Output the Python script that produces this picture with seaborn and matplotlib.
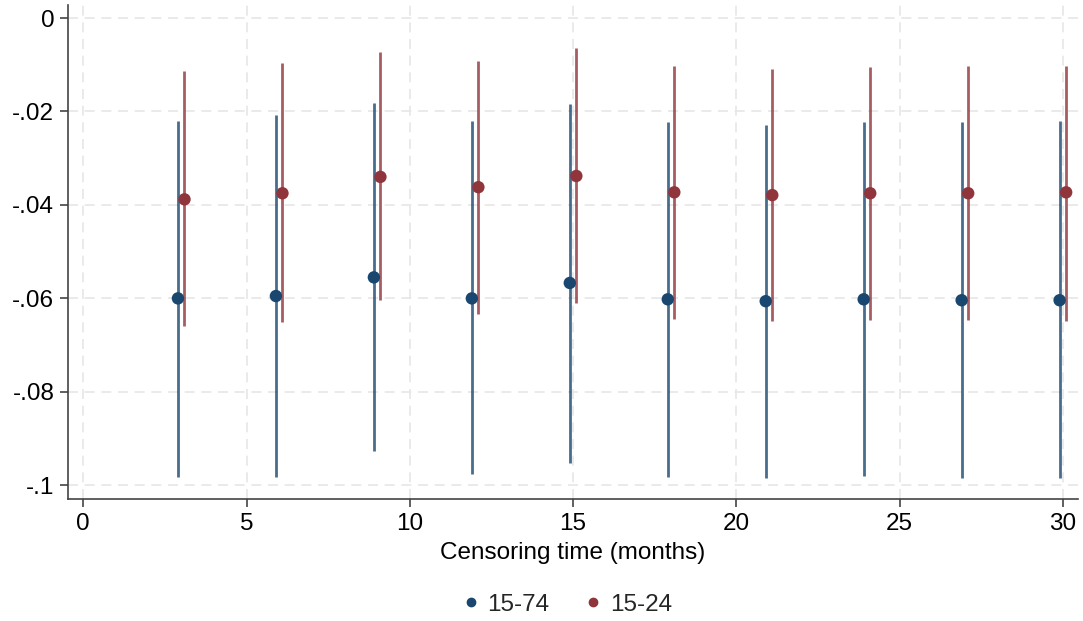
import numpy as np
import pandas as pd
import matplotlib
matplotlib.use("Agg")
import matplotlib.pyplot as plt
import seaborn as sns

# censoring times (months)
months = [3, 6, 9, 12, 15, 18, 21, 24, 27, 30]

# 15-74 group: point estimate and 95% CI
est_1574 = [-0.0600, -0.0595, -0.0555, -0.0600, -0.0567, -0.0602, -0.0606, -0.0602, -0.0604, -0.0604]
lo_1574 = [-0.0983, -0.0983, -0.0927, -0.0976, -0.0953, -0.0983, -0.0985, -0.0981, -0.0985, -0.0985]
hi_1574 = [-0.0221, -0.0208, -0.0182, -0.0221, -0.0184, -0.0223, -0.0229, -0.0223, -0.0223, -0.0221]

# 15-24 group
est_1524 = [-0.0388, -0.0375, -0.0340, -0.0362, -0.0338, -0.0373, -0.0379, -0.0375, -0.0375, -0.0373]
lo_1524 = [-0.0660, -0.0651, -0.0604, -0.0634, -0.0610, -0.0645, -0.0649, -0.0647, -0.0647, -0.0649]
hi_1524 = [-0.0113, -0.0096, -0.0073, -0.0092, -0.0064, -0.0103, -0.0109, -0.0105, -0.0103, -0.0103]

groups = ["15-74", "15-24"]
colors = {"15-74": "#1a476f", "15-24": "#90353b"}
offsets = {"15-74": -0.1, "15-24": 0.1}

frames = []
for g, est, lo, hi in [("15-74", est_1574, lo_1574, hi_1574),
                       ("15-24", est_1524, lo_1524, hi_1524)]:
    frames.append(pd.DataFrame({"month": months, "est": est, "lo": lo, "hi": hi, "group": g}))
df = pd.concat(frames, ignore_index=True)
df["x"] = df["month"] + df["group"].map(offsets)

sns.set_theme(style="white")
plt.rcParams['font.family'] = ['Liberation Sans', 'DejaVu Sans']

fig = plt.figure(figsize=(10.83, 6.21), dpi=100)
ax = fig.add_axes([0.063, 0.196, 0.932, 0.796])

for g in groups:
    sub = df[df["group"] == g]
    ax.vlines(sub["x"], sub["lo"], sub["hi"], color=colors[g], lw=2, alpha=0.8, zorder=2)

sns.scatterplot(data=df, x="x", y="est", hue="group", hue_order=groups,
                palette=colors, s=80, edgecolor="none", ax=ax, zorder=3)

ax.set_xlim(-0.46, 30.45)
ax.set_ylim(-0.103, 0.0028)
ax.set_xticks([0, 5, 10, 15, 20, 25, 30])
yt = [0, -0.02, -0.04, -0.06, -0.08, -0.1]
ax.set_yticks(yt)
ax.set_yticklabels(["0", "-.02", "-.04", "-.06", "-.08", "-.1"])
ax.tick_params(axis="both", labelsize=17.5, length=6, width=1.2, color="#444444",
               labelcolor="black", bottom=True, left=True, direction="out", pad=4)
ax.grid(True, color="#e6e6e6", linestyle=(0, (6, 4)), lw=1.2)
ax.set_axisbelow(True)

for s in ["top", "right"]:
    ax.spines[s].set_visible(False)
for s in ["left", "bottom"]:
    ax.spines[s].set_color("#444444")
    ax.spines[s].set_linewidth(1.2)

ax.set_xlabel("Censoring time (months)", fontsize=17.5, labelpad=5, color="black")
ax.set_ylabel("")

ax.legend_.remove()
handles = [plt.Line2D([], [], marker="o", ls="", color=colors[g], markersize=6) for g in groups]
fig.legend(handles, groups, loc="center", bbox_to_anchor=(0.521, 0.026), ncol=2,
           frameon=False, fontsize=17.5, handletextpad=0.1, columnspacing=1.2,
           handlelength=1.2)

fig.savefig("out.png", dpi=100, facecolor="white")
